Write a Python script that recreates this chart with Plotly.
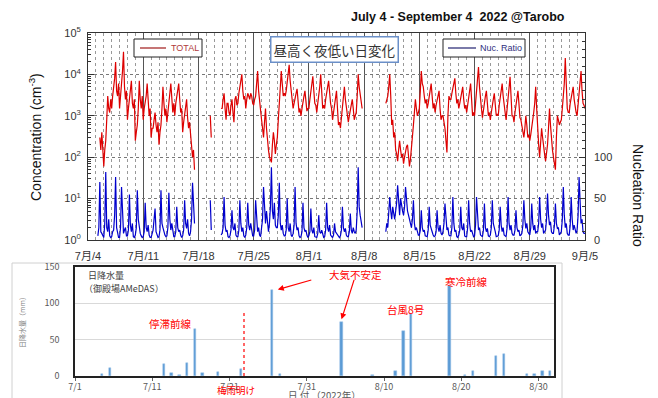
import pandas as pd
import plotly.graph_objects as go

W, H = 658, 398
N = None

# ---------------- top panel data: 3-hourly samples (00,03,...,21) per day from 7/4 ----------------
total = [
    N, N, N, N, N, N, N, N,                              # 7/4
    N, N, N, N, 300, 150, 400, 120,                      # 7/5
    60, 150, 250, 800, 3000, 1500, 1200, 2500,           # 7/6
    1500, 3000, 5000, 8000, 20000, 4000, 3000, 6000,     # 7/7
    1500, 2500, 6000, 12000, 35000, 5000, 2500, 4000,    # 7/8
    800, 1500, 2500, 4000, 7000, 2000, 1500, 2500,       # 7/9
    250, 400, 600, 1500, 7000, 2500, 1500, 3000,         # 7/10
    800, 1500, 2000, 3000, 6000, 2000, 1000, 1500,       # 7/11
    300, 500, 500, 800, 1200, 600, 400, 700,             # 7/12
    200, 400, 600, 1500, 5000, 2000, 1000, 1500,         # 7/13
    700, 1200, 2500, 3500, 6000, 2000, 1200, 2000,       # 7/14
    1000, 2000, 3000, 4000, 6000, 2500, 1200, 1500,      # 7/15
    400, 700, 1000, 1500, 2500, 900, 500, 700,           # 7/16
    300, 200, 100, 150, 50, N, N, N,                     # 7/17
    N, N, N, N, N, N, N, N,                              # 7/18
    N, N, N, N, 1000, 300, N, N,                         # 7/19
    N, N, N, N, N, N, N, 1500,                           # 7/20
    1500, 2500, 3500, 1500, 800, 2000, 2000, 1200,       # 7/21
    1000, 1800, 2500, 1200, 700, 2500, 3000, 1800,       # 7/22
    2000, 3500, 5000, 7000, 10000, 4000, 2500, 3000,     # 7/23
    1500, 2500, 3500, 3000, 2500, 3500, 3000, 2000,      # 7/24
    1800, 2500, 3000, 6000, 12000, 4000, 2000, 1500,     # 7/25
    800, 500, 300, 700, 1500, 500, 200, 150,             # 7/26
    100, 90, 75, 200, 400, 250, 120, 200,                # 7/27
    300, 800, 2000, 5000, 12000, 6000, 3000, 3500,       # 7/28
    3000, 4000, 6000, 9000, 17000, 7000, 4000, 3000,     # 7/29
    1500, 2000, 3000, 3500, 4500, 2500, 1200, 1500,      # 7/30
    1000, 1500, 2500, 3000, 4000, 2500, 1300, 1500,      # 7/31
    1500, 2500, 4000, 6000, 9000, 4000, 2000, 1800,      # 8/1
    1200, 2000, 3000, 5000, 10000, 3500, 1500, 1800,     # 8/2
    1500, 2500, 4000, 5000, 7000, 3000, 2000, 1500,      # 8/3
    800, 1200, 2000, 3000, 4000, 1500, 600, 700,         # 8/4
    500, 900, 1500, 3000, 5000, 2500, 1500, 1000,        # 8/5
    700, 1000, 1500, 2000, 2500, 1500, 800, 1000,        # 8/6
    1200, 3000, 10000, 5000, 3000, 2500, 1500, N,        # 8/7
    N, N, N, N, N, N, N, N,                              # 8/8
    N, N, N, N, N, N, N, N,                              # 8/9
    N, N, N, N, N, N, 2000, 2500,                        # 8/10
    3000, 5000, 10000, 3000, 600, 800, 300, 400,         # 8/11
    150, 120, 80, 150, 250, 150, 100, 120,               # 8/12
    70, 100, 150, 180, 200, 100, 60, 90,                 # 8/13
    200, 300, 600, 1200, 2500, 1500, 1000, 1200,         # 8/14
    1500, 4000, 12000, 6000, 5000, 3000, 2000, 2500,     # 8/15
    1500, 2000, 3000, 4000, 6000, 3000, 1500, 2000,      # 8/16
    1200, 1800, 2500, 3000, 4000, 1500, 800, 1000,       # 8/17
    1000, 700, 500, 250, 130, 1000, 3000, 2500,          # 8/18
    2500, 3500, 5000, 6000, 8000, 3500, 2000, 2500,      # 8/19
    1500, 2000, 3000, 4000, 5000, 2500, 1500, 1800,      # 8/20
    1200, 1800, 2500, 4000, 6000, 2500, 1000, 1200,      # 8/21
    1000, 2000, 4000, 8000, 15000, 5000, 2000, 1500,     # 8/22
    900, 1500, 2500, 3000, 4000, 2000, 1000, 1200,       # 8/23
    800, 1200, 2000, 2500, 3500, 2000, 1000, 1100,       # 8/24
    1000, 1800, 3000, 4000, 6000, 3000, 1500, 1200,      # 8/25
    800, 1500, 2500, 4000, 8700, 3000, 1000, 1000,       # 8/26
    700, 1200, 2000, 3000, 4000, 2000, 900, 800,         # 8/27
    600, 400, 300, 500, 1000, 600, 300, 350,             # 8/28
    250, 350, 500, 800, 1200, 2000, 5000, 1500,          # 8/29
    300, 200, 100, 200, 500, 300, 150, 120,              # 8/30
    80, 120, 200, 500, 1500, 600, 200, 150,              # 8/31
    100, 70, 50, 300, 1000, 800, 600, 700,               # 9/1
    800, 1500, 2500, 6000, 25000, 4000, 1500, 1200,      # 9/2
    1200, 2000, 3000, 4000, 5000, 2500, 1500, 1200,      # 9/3
    1000, 1800, 3000, 6000, 12000, 4000, 2000, 1800,     # 9/4
    1500,                                                # 9/5 00:00
]
nuc_ratio = [
    N, N, N, N, N, N, N, N,          # 7/4
    N, N, 5, 15, 70, 10, 8, 4,       # 7/5
    3, 20, 82, 15, 10, 25, 5, 3,     # 7/6
    4, 10, 12, 30, 76, 15, 6, 3,     # 7/7
    3, 15, 64, 20, 8, 12, 15, 5,     # 7/8
    5, 12, 55, 18, 10, 20, 4, 3,     # 7/9
    6, 15, 60, 25, 12, 8, 5, 3,      # 7/10
    4, 10, 45, 15, 10, 18, 6, 3,     # 7/11
    3, 8, 12, 25, 38, 10, 5, 3,      # 7/12
    4, 12, 60, 20, 15, 10, 6, 4,     # 7/13
    5, 15, 57, 25, 12, 20, 8, 4,     # 7/14
    4, 10, 40, 15, 10, 12, 6, 3,     # 7/15
    5, 12, 48, 20, 14, 25, 8, 5,     # 7/16
    10, 25, 69, 30, 20, N, N, N,     # 7/17
    N, N, N, N, N, N, N, N,          # 7/18
    N, N, N, N, 48, 12, N, N,        # 7/19
    N, N, N, N, N, N, N, 6,          # 7/20
    8, 15, 52, 18, 10, 12, 4, 3,     # 7/21
    5, 12, 36, 15, 12, 20, 6, 4,     # 7/22
    4, 12, 48, 20, 10, 15, 5, 3,     # 7/23
    6, 15, 45, 18, 12, 20, 8, 5,     # 7/24
    5, 12, 48, 20, 10, 15, 6, 4,     # 7/25
    12, 25, 64, 30, 20, 35, 15, 10,  # 7/26
    20, 40, 88, 35, 25, 45, 18, 15,  # 7/27
    15, 30, 69, 20, 12, 18, 8, 5,    # 7/28
    5, 12, 50, 15, 10, 20, 6, 4,     # 7/29
    8, 18, 64, 20, 12, 15, 5, 3,     # 7/30
    4, 10, 45, 15, 10, 12, 6, 3,     # 7/31
    5, 10, 38, 12, 8, 15, 4, 3,      # 8/1
    3, 8, 30, 10, 8, 12, 5, 3,       # 8/2
    4, 12, 45, 15, 10, 18, 6, 4,     # 8/3
    3, 6, 20, 10, 8, 6, 4, 3,        # 8/4
    5, 12, 40, 15, 10, 14, 6, 4,     # 8/5
    4, 10, 32, 12, 8, 15, 10, 8,     # 8/6
    12, 35, 88, 40, 30, 20, 15, N,   # 8/7
    N, N, N, N, N, N, N, N,          # 8/8
    N, N, N, N, N, N, N, N,          # 8/9
    N, N, N, N, N, N, 10, 20,        # 8/10
    15, 30, 52, 35, 25, 40, 30, 25,  # 8/11
    35, 45, 66, 40, 30, 50, 40, 35,  # 8/12
    30, 40, 64, 45, 35, 30, 25, 20,  # 8/13
    15, 25, 48, 20, 12, 15, 8, 6,    # 8/14
    6, 12, 36, 15, 10, 12, 5, 4,     # 8/15
    4, 12, 40, 18, 12, 10, 6, 4,     # 8/16
    5, 10, 36, 15, 10, 18, 8, 6,     # 8/17
    10, 20, 44, 25, 12, 15, 6, 5,    # 8/18
    5, 15, 52, 20, 10, 12, 4, 3,     # 8/19
    6, 12, 40, 15, 12, 20, 5, 4,     # 8/20
    4, 15, 48, 20, 10, 12, 6, 4,     # 8/21
    5, 18, 52, 20, 12, 15, 6, 5,     # 8/22
    4, 12, 44, 15, 10, 14, 5, 4,     # 8/23
    6, 15, 48, 20, 12, 10, 4, 5,     # 8/24
    5, 12, 40, 18, 10, 15, 6, 5,     # 8/25
    4, 15, 52, 20, 12, 18, 8, 6,     # 8/26
    6, 12, 36, 15, 10, 12, 5, 6,     # 8/27
    8, 18, 48, 25, 14, 20, 10, 8,    # 8/28
    6, 15, 44, 20, 12, 18, 8, 10,    # 8/29
    10, 20, 52, 25, 15, 20, 8, 10,   # 8/30
    12, 25, 56, 30, 18, 22, 10, 8,   # 8/31
    8, 18, 44, 20, 14, 15, 6, 8,     # 9/1
    10, 25, 64, 30, 15, 20, 8, 6,    # 9/2
    6, 18, 52, 25, 12, 18, 10, 8,    # 9/3
    12, 30, 76, 35, 20, 25, 10, 8,   # 9/4
    8,                               # 9/5 00:00
]
times = pd.date_range("2022-07-04", periods=len(total), freq="3h")

week_ticks = ["2022-07-04", "2022-07-11", "2022-07-18", "2022-07-25", "2022-08-01",
              "2022-08-08", "2022-08-15", "2022-08-22", "2022-08-29", "2022-09-05"]
week_labels = ["7月/4", "7月/11", "7月/18", "7月/25", "8月/1",
               "8月/8", "8月/15", "8月/22", "8月/29", "9月/5"]
conc_ticks = [1, 10, 100, 1000, 10000, 100000]
conc_labels = ["10<sup>0</sup>", "10<sup>1</sup>", "10<sup>2</sup>",
               "10<sup>3</sup>", "10<sup>4</sup>", "10<sup>5</sup>"]
ratio_ticks = [0, 50, 100]

# ---------------- bottom panel data (daily precipitation, Gotemba AMeDAS) ----------------
rain_dates = ["2022-07-04", "2022-07-05", "2022-07-12", "2022-07-13", "2022-07-14",
              "2022-07-15", "2022-07-16", "2022-07-17", "2022-07-19", "2022-07-22",
              "2022-07-26", "2022-07-27", "2022-08-04", "2022-08-08", "2022-08-11",
              "2022-08-12", "2022-08-13", "2022-08-18", "2022-08-20", "2022-08-21",
              "2022-08-24", "2022-08-25", "2022-08-28", "2022-08-29", "2022-08-30",
              "2022-08-31"]
rain_mm = [3, 11, 16, 4, 1, 18, 65, 4, 6, 9,
           119, 3, 75, 1, 7, 62, 86, 124, 1, 7,
           27, 30, 3, 3, 7, 7]
rain_ticks = ["2022-07-01", "2022-07-11", "2022-07-21", "2022-07-31",
              "2022-08-10", "2022-08-20", "2022-08-30"]
rain_tick_labels = ["7/1", "7/11", "7/21", "7/31", "8/10", "8/20", "8/30"]


def px(xp):
    return xp / W


def py(yp):
    return 1 - yp / H


FONT = "Liberation Sans, Arial, Noto Sans CJK JP"
JFONT = "Noto Sans CJK JP, sans-serif"
RED = "#dd0000"
BLUE = "#0000cc"

fig = go.Figure()
fig.add_trace(go.Scatter(x=times, y=total, mode="lines", name="TOTAL",
                         line=dict(color=RED, width=1.2), connectgaps=False,
                         xaxis="x", yaxis="y", showlegend=False))
fig.add_trace(go.Scatter(x=times, y=nuc_ratio, mode="lines", name="Nuc. Ratio",
                         line=dict(color=BLUE, width=1.2), connectgaps=False,
                         xaxis="x", yaxis="y2", showlegend=False))
fig.add_trace(go.Bar(x=rain_dates, y=rain_mm, xaxis="x2", yaxis="y3",
                     xperiod=86400000, xperiodalignment="middle",
                     width=0.32 * 86400000, showlegend=False,
                     marker=dict(color="#5b9bd5", line=dict(color="#9dc3e6", width=0.5))))

minor_log = [m * 10 ** e for e in range(0, 5) for m in range(2, 10)]

fig.update_layout(
    width=W, height=H,
    margin=dict(l=0, r=0, t=0, b=0, autoexpand=False),
    paper_bgcolor="white", plot_bgcolor="white",
    font=dict(family=FONT, size=11, color="#333"),
    bargap=0, showlegend=False,
    xaxis=dict(domain=[px(88), px(585)], anchor="y", type="date", automargin=False,
               range=["2022-07-04", "2022-09-05"],
               tickmode="array", tickvals=week_ticks, ticktext=week_labels,
               showgrid=True, gridcolor="#555", gridwidth=1,
               showline=True, linecolor="#333", linewidth=1, mirror=True,
               ticks="", ticklabelstandoff=6,
               tickfont=dict(size=11, color="#333", family=FONT),
               minor=dict(tickmode="linear", tick0="2022-07-04", dtick=86400000,
                          showgrid=True, gridcolor="#999", griddash="dot", gridwidth=1,
                          ticks="")),
    yaxis=dict(domain=[py(240), py(33)], anchor="x", type="log", range=[0, 5],
               automargin=False,
               tickmode="array", tickvals=conc_ticks, ticktext=conc_labels,
               showgrid=True, gridcolor="#777", griddash="dot", gridwidth=1,
               showline=True, linecolor="#333", linewidth=1, mirror=True,
               ticks="inside", ticklen=6, tickcolor="#333", ticklabelstandoff=4,
               tickfont=dict(size=11, color="#333"),
               minor=dict(tickmode="array", tickvals=minor_log, ticks="inside",
                          ticklen=3, tickcolor="#333", showgrid=False)),
    yaxis2=dict(overlaying="y", anchor="x", side="right", range=[0, 250],
                automargin=False,
                tickmode="array", tickvals=ratio_ticks,
                showgrid=False, zeroline=False,
                ticks="inside", ticklen=6, tickcolor="#333", ticklabelstandoff=8,
                tickfont=dict(size=11, color="#333"),
                minor=dict(tickmode="linear", tick0=0, dtick=10, ticks="inside",
                           ticklen=3, tickcolor="#333", showgrid=False)),
    xaxis2=dict(domain=[px(75), px(554)], anchor="y3", type="date", automargin=False,
                range=["2022-07-01", "2022-09-01"],
                tickmode="array", tickvals=rain_ticks, ticktext=rain_tick_labels,
                showgrid=False, showline=True, linecolor="#222", linewidth=1.5, mirror=True,
                ticks="outside", ticklen=3, tickcolor="#666", ticklabelstandoff=-2,
                tickfont=dict(size=9, color="#595959", family=JFONT)),
    yaxis3=dict(domain=[py(376), py(267)], anchor="x2", range=[0, 150], automargin=False,
                tickmode="array", tickvals=[0, 50, 100, 150],
                showgrid=True, gridcolor="#d9d9d9", gridwidth=1, zeroline=False,
                showline=True, linecolor="#222", linewidth=1.5, mirror=True,
                ticks="", ticklabelstandoff=12,
                tickfont=dict(size=9, color="#595959", family=JFONT)),
)


def note(text, x, y, size, color, family=JFONT, **kw):
    d = dict(text=text, x=px(x), y=py(y), xref="paper", yref="paper",
             xanchor="center", yanchor="middle", showarrow=False,
             font=dict(size=size, color=color, family=family))
    d.update(kw)
    return d


ann = [
    note("<b>July 4 - September 4\u00a0\u00a02022 @Tarobo</b>", 458, 17, 12.5, "#111", FONT),
    note("Concentration (cm<sup>-3</sup>)", 35, 137, 14, "#111", FONT, textangle=-90),
    note("Nucleation Ratio", 638, 195, 14, "#111", FONT, textangle=90),
    note("昼高く夜低い日変化", 334, 49.5, 13.5, "#333", JFONT,
         bgcolor="white", bordercolor="#6a8fc8", borderwidth=1.5, borderpad=2),
    # legend texts
    note("TOTAL", 169, 48, 9, "#b03a3a", FONT, xanchor="left"),
    note("Nuc. Ratio", 478, 48, 9, "#303080", FONT, xanchor="left"),
    # bottom panel texts
    note("日降水量", 86, 275, 9, "#404040", xanchor="left"),
    note("（御殿場AMeDAS）", 82, 288, 9, "#404040", xanchor="left"),
    note("日降水量（mm）", 22, 321, 7, "#7f7f7f", textangle=-90),
    note("日 付 （2022年）", 324, 395, 9.5, "#595959"),
    note("停滞前線", 170, 323, 10.5, "#ff0000"),
    note("大気不安定", 355, 274, 10.5, "#ff0000"),
    note("台風8号", 405, 309, 10.5, "#ff0000"),
    note("寒冷前線", 466, 281, 10.5, "#ff0000"),
    note("梅雨明け", 236, 390, 9.5, "#ff0000"),
    dict(text="", x="2022-07-27 06:00", y=119, xref="x2", yref="y3",
         ax=35, ay=-10, showarrow=True, arrowhead=2, arrowsize=1,
         arrowwidth=1.2, arrowcolor="#ff0000"),
    dict(text="", x="2022-08-04 12:00", y=78, xref="x2", yref="y3",
         ax=13, ay=-41, showarrow=True, arrowhead=2, arrowsize=1,
         arrowwidth=1.2, arrowcolor="#ff0000"),
]
fig.update_layout(annotations=ann)

shapes = [
    # legend boxes
    dict(type="rect", xref="paper", yref="paper", x0=px(134), x1=px(202), y0=py(57), y1=py(39),
         line=dict(color="#222", width=1), fillcolor="white", layer="above"),
    dict(type="line", xref="paper", yref="paper", x0=px(140), x1=px(166), y0=py(48), y1=py(48),
         line=dict(color="#a01818", width=1.2), layer="above"),
    dict(type="rect", xref="paper", yref="paper", x0=px(443), x1=px(525), y0=py(57), y1=py(39),
         line=dict(color="#222", width=1), fillcolor="white", layer="above"),
    dict(type="line", xref="paper", yref="paper", x0=px(448), x1=px(476), y0=py(48), y1=py(48),
         line=dict(color="#202070", width=1.2), layer="above"),
    # rainy season end marker
    dict(type="line", xref="x2", yref="y3",
         x0="2022-07-22 21:00", x1="2022-07-22 21:00", y0=0, y1=87,
         line=dict(color="#ff0000", width=1.2, dash="dot")),
    # outer frame of the precipitation chart
    dict(type="rect", xref="paper", yref="paper",
         x0=px(12), x1=px(562), y0=-0.01, y1=py(263),
         line=dict(color="#d0d0d0", width=1), layer="below"),
]
fig.update_layout(shapes=shapes)

fig.write_html("out.html", config={"displayModeBar": False},
               post_script="document.body.style.margin='0px';")
